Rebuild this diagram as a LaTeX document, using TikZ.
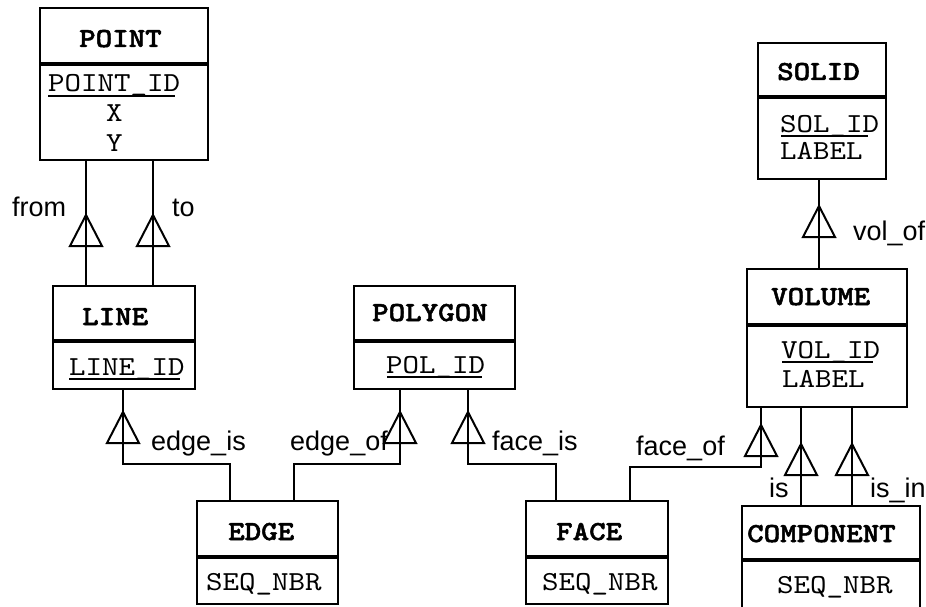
\documentclass[tikz,border=0pt]{standalone}
\usepackage{fontspec}
\setmainfont{Liberation Sans}
\newfontfamily\courfont{lmmono10-regular}[Extension=.otf, FakeStretch=1.143]
\newfontfamily\courbfont{lmmonolt10-bold}[Extension=.otf, FakeStretch=1.143, FakeBold=1.8]
\begin{document}
\begin{tikzpicture}[x=1pt,y=-1pt,
  box/.style={draw, line width=2.2pt, rectangle, inner sep=0pt, anchor=north west},
  divline/.style={line width=4pt},
  conn/.style={line width=2pt},
  ttl/.style={font=\courbfont\fontsize{27.5}{30}\selectfont, anchor=base west, inner sep=0pt},
  att/.style={font=\courfont\fontsize{27.5}{30}\selectfont, anchor=base west, inner sep=0pt},
  lbl/.style={font=\fontsize{27}{30}\selectfont, anchor=base west, inner sep=0pt},
  uline/.style={line width=1.8pt},
  tri/.pic={\draw[line width=2pt] (-16,31) -- (0,0) -- (16,31) -- cycle;}
]
\clip (0,0) rectangle (926,607);
\fill[white] (0,0) rectangle (926,607);

% ---------- boxes ----------
% POINT
\node[box, minimum width=168pt, minimum height=55pt] (pointH) at (39,7) {};
\node[box, minimum width=168pt, minimum height=97pt] (point) at (39,62) {};
\draw[divline] (pointH.south west) -- (pointH.south east);
\node[ttl] (pointT) at (79,47) {POINT};
\node[att] (pointA) at (48,92) {POINT\_ID};
\draw[uline] (48,96) -- (175,96);
\node[att] (pointX) at (106,122) {X};
\node[att] (pointY) at (106,152) {Y};

% LINE
\node[box, minimum width=142pt, minimum height=54pt] (lineH) at (52,285) {};
\node[box, minimum width=142pt, minimum height=49pt] (line) at (52,339) {};
\draw[divline] (lineH.south west) -- (lineH.south east);
\node[ttl] (lineT) at (82,325) {LINE};
\node[att] (lineA) at (69,375) {LINE\_ID};
\draw[uline] (69,379) -- (180,379);

% EDGE
\node[box, minimum width=141pt, minimum height=55pt] (edgeH) at (196,500) {};
\node[box, minimum width=141pt, minimum height=48pt] (edge) at (196,555) {};
\draw[divline] (edgeH.south west) -- (edgeH.south east);
\node[ttl] (edgeT) at (228,540) {EDGE};
\node[att] (edgeA) at (206,590) {SEQ\_NBR};

% POLYGON
\node[box, minimum width=161pt, minimum height=54pt] (polyH) at (353,285) {};
\node[box, minimum width=161pt, minimum height=49pt] (poly) at (353,339) {};
\draw[divline] (polyH.south west) -- (polyH.south east);
\node[ttl] (polyT) at (372,321) {POLYGON};
\node[att] (polyA) at (386,373) {POL\_ID};
\draw[uline] (387,377) -- (482,377);

% FACE
\node[box, minimum width=142pt, minimum height=55pt] (faceH) at (525,500) {};
\node[box, minimum width=142pt, minimum height=48pt] (face) at (525,555) {};
\draw[divline] (faceH.south west) -- (faceH.south east);
\node[ttl] (faceT) at (556,540) {FACE};
\node[att] (faceA) at (542,590) {SEQ\_NBR};

% SOLID
\node[box, minimum width=128pt, minimum height=53pt] (solidH) at (757,42) {};
\node[box, minimum width=128pt, minimum height=83pt] (solid) at (757,95) {};
\draw[divline] (solidH.south west) -- (solidH.south east);
\node[ttl] (solidT) at (777,80) {SOLID};
\node[att] (solidA) at (780,132) {SOL\_ID};
\draw[uline] (781,136) -- (868,136);
\node[att] (solidB) at (780,160) {LABEL};

% VOLUME
\node[box, minimum width=160pt, minimum height=55pt] (volH) at (746,268) {};
\node[box, minimum width=160pt, minimum height=83pt] (vol) at (746,323) {};
\draw[divline] (volH.south west) -- (volH.south east);
\node[ttl] (volT) at (771,305) {VOLUME};
\node[att] (volA) at (781,358) {VOL\_ID};
\draw[uline] (782,362) -- (873,362);
\node[att] (volB) at (782,387) {LABEL};

% COMPONENT
\node[box, minimum width=178pt, minimum height=53pt] (compH) at (741,505) {};
\node[box, minimum width=178pt, minimum height=70pt] (comp) at (741,558) {};
\draw[divline] (compH.south west) -- (compH.south east);
\node[ttl] (compT) at (747,542) {COMPONENT};
\node[att] (compA) at (777,593) {SEQ\_NBR};

% ---------- connectors ----------
\coordinate (xa) at (86,0);
\coordinate (xb) at (153,0);
\draw[conn] (point.south -| xa) -- (lineH.north -| xa);
\draw[conn] (point.south -| xb) -- (lineH.north -| xb);
\pic at (86,215) {tri};
\pic at (153,215) {tri};
\node[lbl] (lfrom) at (12,216) {from};
\node[lbl] (lto) at (172,216) {to};

% edge_is
\coordinate (e1) at (123,464);
\coordinate (e2) at (230,464);
\draw[conn] (line.south -| e1) -- (e1) -- (e2) -- (edgeH.north -| e2);
\pic at (123,412) {tri};
\node[lbl] (ledgeis) at (151,450) {edge\_is};

% edge_of
\coordinate (f1) at (294,464);
\coordinate (f2) at (400,464);
\draw[conn] (edgeH.north -| f1) -- (f1) -- (f2) -- (poly.south -| f2);
\pic at (400,412) {tri};
\node[lbl] (ledgeof) at (290,450) {edge\_of};

% face_is
\coordinate (g1) at (468,464);
\coordinate (g2) at (556,464);
\draw[conn] (poly.south -| g1) -- (g1) -- (g2) -- (faceH.north -| g2);
\pic at (468,412) {tri};
\node[lbl] (lfaceis) at (492,450) {face\_is};

% vol_of
\coordinate (xv) at (819,0);
\draw[conn] (solid.south -| xv) -- (volH.north -| xv);
\pic at (819,206) {tri};
\node[lbl] (lvolof) at (853,240) {vol\_of};

% face_of
\coordinate (h1) at (761,467);
\coordinate (h2) at (630,467);
\draw[conn] (vol.south -| h1) -- (h1) -- (h2) -- (faceH.north -| h2);
\pic at (761,425) {tri};
\node[lbl] (lfaceof) at (636,455) {face\_of};

% is, is_in
\coordinate (xi) at (801,0);
\coordinate (xj) at (852,0);
\draw[conn] (vol.south -| xi) -- (compH.north -| xi);
\draw[conn] (vol.south -| xj) -- (compH.north -| xj);
\pic at (801,444) {tri};
\pic at (852,444) {tri};
\node[lbl] (lis) at (769,497) {is};
\node[lbl] (lisin) at (870,497) {is\_in};
\end{tikzpicture}
\end{document}
